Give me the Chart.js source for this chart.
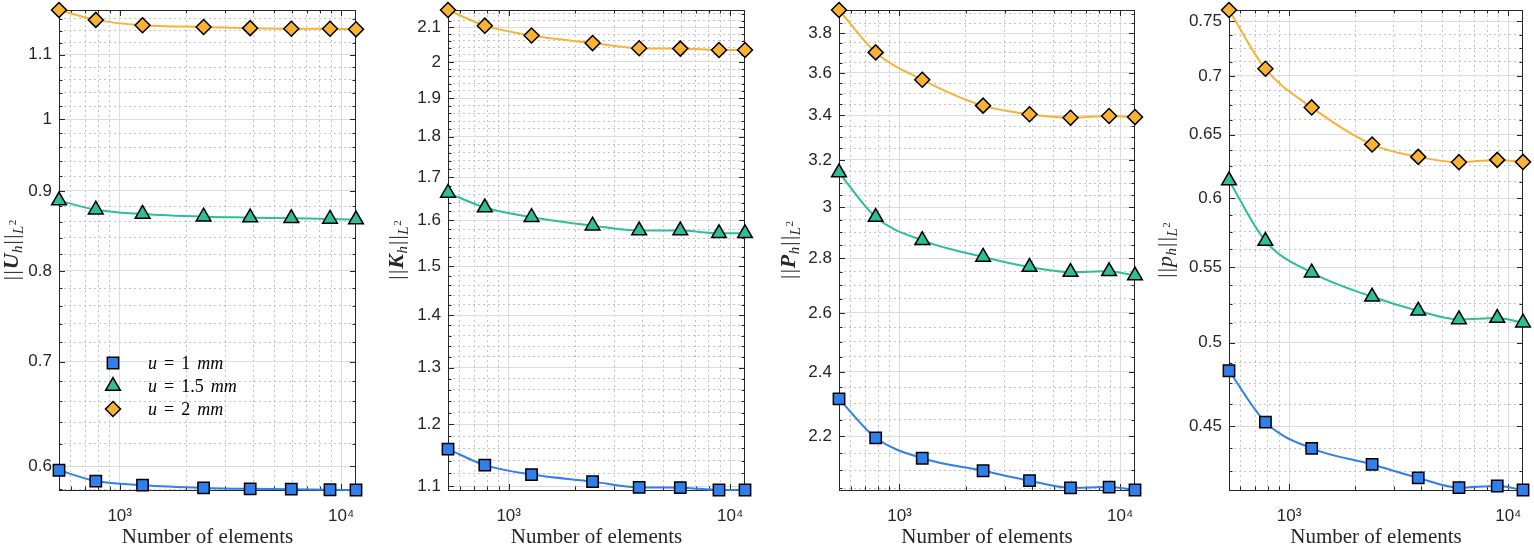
<!DOCTYPE html>
<html lang="en">
<head>
<meta charset="UTF-8">
<title>L2 norms vs number of elements</title>
<script src="https://cdn.jsdelivr.net/npm/chart.js"></script>
<style>
  html, body { margin: 0; padding: 0; background: #fff; }
  #wrap { position: relative; width: 1534px; height: 546px; overflow: hidden; }
  #wrap canvas { position: absolute; top: 0; }
</style>
</head>
<body>
<div id="wrap"></div>
<script>
// number of elements (log x axis)
const elements = [532, 780, 1268, 2392, 3883, 5955, 8905, 11670];
const seriesLabels = ['u = 1 mm', 'u = 1.5 mm', 'u = 2 mm'];

// ||U_h||_L2
const normU_1  = [0.5964, 0.5870, 0.5834, 0.5811, 0.5803, 0.5800, 0.5795, 0.5793];
const normU_15 = [0.8873, 0.8755, 0.8700, 0.8666, 0.8654, 0.8644, 0.8636, 0.8628];
const normU_2  = [1.175, 1.158, 1.149, 1.146, 1.144, 1.143, 1.143, 1.142];

// ||K_h||_L2
const normK_1  = [1.159, 1.133, 1.118, 1.107, 1.098, 1.0976, 1.094, 1.094];
const normK_15 = [1.663, 1.629, 1.607, 1.588, 1.577, 1.577, 1.571, 1.571];
const normK_2  = [2.152, 2.105, 2.076, 2.054, 2.039, 2.038, 2.034, 2.034];

// ||P_h||_L2
const normP_1  = [2.314, 2.195, 2.135, 2.099, 2.071, 2.051, 2.053, 2.045];
const normP_15 = [3.145, 2.961, 2.869, 2.805, 2.767, 2.748, 2.751, 2.735];
const normP_2  = [3.921, 3.702, 3.567, 3.444, 3.404, 3.388, 3.396, 3.391];

// ||p_h||_L2
const normp_1  = [0.4825, 0.4522, 0.4375, 0.4287, 0.4215, 0.4163, 0.4172, 0.4151];
const normp_15 = [0.6134, 0.5683, 0.5461, 0.5297, 0.5204, 0.5148, 0.5157, 0.5127];
const normp_2  = [0.7607, 0.7063, 0.6727, 0.6419, 0.6320, 0.6278, 0.6296, 0.6280];

// ticks
const xTicks = [1000, 10000];
const xMinorTicks = [600, 700, 800, 900, 2000, 3000, 4000, 5000, 6000, 7000, 8000, 9000];
const yTicksU = [0.6, 0.7, 0.8, 0.9, 1, 1.1];
const yTicksK = [1.1, 1.2, 1.3, 1.4, 1.5, 1.6, 1.7, 1.8, 1.9, 2, 2.1];
const yTicksP = [2.2, 2.4, 2.6, 2.8, 3, 3.2, 3.4, 3.6, 3.8];
const yTicksp = [0.45, 0.5, 0.55, 0.6, 0.65, 0.7, 0.75];

const colors = ['#2f80ed', '#2dbf98', '#f9b234'];
const markers = ['rect', 'triangle', 'rectRot'];
const markerRadius = [8, 8.5, 7.5];

const axisColor = '#262626';
const gridMajor = '#dcdcdc';
const gridMinor = '#c4c4c4';
const serif = '"Liberation Serif", "DejaVu Serif", serif';
const sans = '"Liberation Sans", Arial, sans-serif';

const panels = [
  { sym: 'U', bold: true,  series: [normU_1, normU_15, normU_2], yTicks: yTicksU, minor: 0.02,   left: 59,   right: 357,  axisW: 59, labelX: 18, legend: true },
  { sym: 'K', bold: true,  series: [normK_1, normK_15, normK_2], yTicks: yTicksK, minor: 0.02,   left: 448,  right: 746,  axisW: 59, labelX: 14 },
  { sym: 'P', bold: true,  series: [normP_1, normP_15, normP_2], yTicks: yTicksP, minor: 0.05,   left: 839,  right: 1136, axisW: 59, labelX: 15 },
  { sym: 'p', bold: false, series: [normp_1, normp_15, normp_2], yTicks: yTicksp, minor: 0.0125, left: 1229, right: 1524, axisW: 75, labelX: 18 }
];

const fmt = v => String(Math.round(v * 10000) / 10000);

function yTickList(p, min, max) {
  const out = [];
  const t = p.yTicks;
  const lo = t[0] - 5 * (t[1] - t[0]);
  const hi = t[t.length - 1] + 5 * (t[1] - t[0]);
  for (let k = 0; lo + k * p.minor <= hi + 1e-9; k++) {
    const v = Math.round((lo + k * p.minor) * 1e6) / 1e6;
    if (v < min || v > max) continue;
    out.push({ value: v, mj: t.some(m => Math.abs(m - v) < 1e-9) });
  }
  return out;
}

// box + inward tick marks, y label, legend
const framePlugin = {
  id: 'frame',
  beforeDatasetsDraw(chart) {
    const { ctx, chartArea: a, scales } = chart;
    ctx.save();
    ctx.strokeStyle = axisColor;
    ctx.lineWidth = 1;
    ctx.strokeRect(a.left + 0.5, a.top + 0.5, a.right - a.left - 1, a.bottom - a.top);
    ctx.beginPath();
    scales.x.ticks.forEach(t => {
      const px = Math.round(scales.x.getPixelForValue(t.value)) + 0.5;
      const len = t.mj ? 6 : 3.5;
      ctx.moveTo(px, a.bottom); ctx.lineTo(px, a.bottom - len);
      ctx.moveTo(px, a.top); ctx.lineTo(px, a.top + len);
    });
    scales.y.ticks.forEach(t => {
      const py = Math.round(scales.y.getPixelForValue(t.value)) + 0.5;
      const len = t.mj ? 6 : 3.5;
      ctx.moveTo(a.left, py); ctx.lineTo(a.left + len, py);
      ctx.moveTo(a.right, py); ctx.lineTo(a.right - len, py);
    });
    ctx.stroke();
    ctx.restore();
  },
  afterDraw(chart) {
    const p = chart.options.plugins.frame.panel;
    const { ctx, chartArea: a } = chart;
    // y label  ||X_h||_{L^2}
    const parts = [
      { t: '|', f: `21px ${serif}`, dy: 0, gap: 1.5 },
      { t: '|', f: `21px ${serif}`, dy: 0, gap: 1 },
      { t: p.sym, f: `${p.bold ? 'bold ' : ''}italic 22px ${serif}`, dy: 0, gap: 0.5 },
      { t: 'h', f: `italic 15px ${serif}`, dy: 4, gap: 1 },
      { t: '|', f: `21px ${serif}`, dy: 0, gap: 1.5 },
      { t: '|', f: `21px ${serif}`, dy: 0, gap: 0.5 },
      { t: 'L', f: `italic 15px ${serif}`, dy: 5, gap: 0.5 },
      { t: '2', f: `11px ${serif}`, dy: -2, gap: 0 }
    ];
    ctx.save();
    ctx.fillStyle = axisColor;
    ctx.textBaseline = 'alphabetic';
    let total = 0;
    parts.forEach(s => { ctx.font = s.f; s.w = ctx.measureText(s.t).width + s.gap; total += s.w; });
    ctx.translate(p.labelX, (a.top + a.bottom) / 2);
    ctx.rotate(-Math.PI / 2);
    let x = -total / 2;
    parts.forEach(s => { ctx.font = s.f; ctx.fillText(s.t, x, s.dy); x += s.w; });
    ctx.restore();

    if (p.legend) {
      ctx.save();
      chart.data.datasets.forEach((ds, i) => {
        const y = 363 + i * 23;
        ctx.fillStyle = ds.backgroundColor;
        ctx.strokeStyle = '#000';
        ctx.lineWidth = 1.5;
        Chart.helpers.drawPoint(ctx, { pointStyle: ds.pointStyle, radius: ds.pointRadius, borderWidth: 1.5 }, 113, y);
        // math-style label: italic letters, upright "=" and number, wide spacing
        const tokens = ds.label.split(' ');
        let tx = 148;
        ctx.fillStyle = '#000';
        ctx.textBaseline = 'alphabetic';
        tokens.forEach(t => {
          const it = /^[a-z]+$/i.test(t);
          ctx.font = `${it ? 'italic ' : ''}18px ${serif}`;
          ctx.fillText(t, tx, y + 5.5);
          tx += ctx.measureText(t).width + 7;
        });
      });
      ctx.restore();
    }
  }
};

const wrap = document.getElementById('wrap');

panels.forEach(p => {
  const cv = document.createElement('canvas');
  const cLeft = p.left - p.axisW;
  const w = p.right - cLeft + 9;
  cv.width = w;
  cv.height = 546;
  cv.style.left = cLeft + 'px';
  cv.style.width = w + 'px';
  cv.style.height = '546px';
  wrap.appendChild(cv);

  const all = p.series.flat();
  const yMin = Math.min(...all), yMax = Math.max(...all);

  new Chart(cv, {
    type: 'line',
    data: {
      datasets: p.series.map((vals, i) => ({
        label: seriesLabels[i],
        data: elements.map((n, j) => ({ x: n, y: vals[j] })),
        borderColor: colors[i],
        backgroundColor: colors[i],
        borderWidth: 2,
        pointStyle: markers[i],
        pointRadius: markerRadius[i],
        pointHoverRadius: markerRadius[i],
        pointBackgroundColor: colors[i],
        pointBorderColor: '#000',
        pointBorderWidth: 1.5,
        cubicInterpolationMode: 'monotone',
        clip: false
      }))
    },
    options: {
      responsive: false,
      animation: false,
      events: [],
      layout: { padding: { left: 0, right: 9, top: 9, bottom: 0 } },
      plugins: {
        legend: { display: false },
        tooltip: { enabled: false },
        frame: { panel: p }
      },
      scales: {
        x: {
          type: 'logarithmic',
          position: 'bottom',
          min: elements[0],
          max: elements[elements.length - 1],
          bounds: 'data',
          afterBuildTicks: s => {
            s.ticks = xTicks.map(v => ({ value: v, mj: true }))
              .concat(xMinorTicks.map(v => ({ value: v, mj: false })))
              .filter(t => t.value >= s.min && t.value <= s.max)
              .sort((a, b) => a.value - b.value);
          },
          afterFit: s => { s.height = 56; s.paddingLeft = 0; s.paddingRight = 0; s.paddingTop = 0; s.paddingBottom = 0; },
          grid: {
            drawTicks: false,
            color: c => (c.tick && c.tick.mj ? gridMajor : gridMinor),
            lineWidth: 1
          },
          border: { display: false, dash: c => (c.tick && !c.tick.mj ? [2, 3] : []) },
          ticks: {
            autoSkip: false,
            maxRotation: 0,
            padding: 16,
            color: axisColor,
            font: { family: sans, size: 17 },
            callback: v => (v === 1000 ? '10\u00b3' : v === 10000 ? '10\u2074' : '')
          },
          title: {
            display: true,
            text: 'Number of elements',
            color: axisColor,
            font: { family: serif, size: 21, lineHeight: 1 },
            padding: { top: 0, bottom: -2 }
          }
        },
        y: {
          type: 'logarithmic',
          position: 'left',
          min: yMin,
          max: yMax,
          bounds: 'data',
          afterBuildTicks: s => { s.ticks = yTickList(p, s.min, s.max); },
          afterFit: s => { s.width = p.axisW; s.paddingLeft = 0; s.paddingRight = 0; s.paddingTop = 0; s.paddingBottom = 0; },
          grid: {
            drawTicks: false,
            color: c => (c.tick && c.tick.mj ? gridMajor : gridMinor),
            lineWidth: 1
          },
          border: { display: false, dash: c => (c.tick && !c.tick.mj ? [2, 3] : []) },
          ticks: {
            autoSkip: false,
            padding: 7,
            color: axisColor,
            font: { family: sans, size: 17 },
            callback: function (v, i, ticks) { return ticks[i].mj ? fmt(v) : ''; }
          }
        }
      }
    },
    plugins: [framePlugin]
  });
});
</script>
</body>
</html>
